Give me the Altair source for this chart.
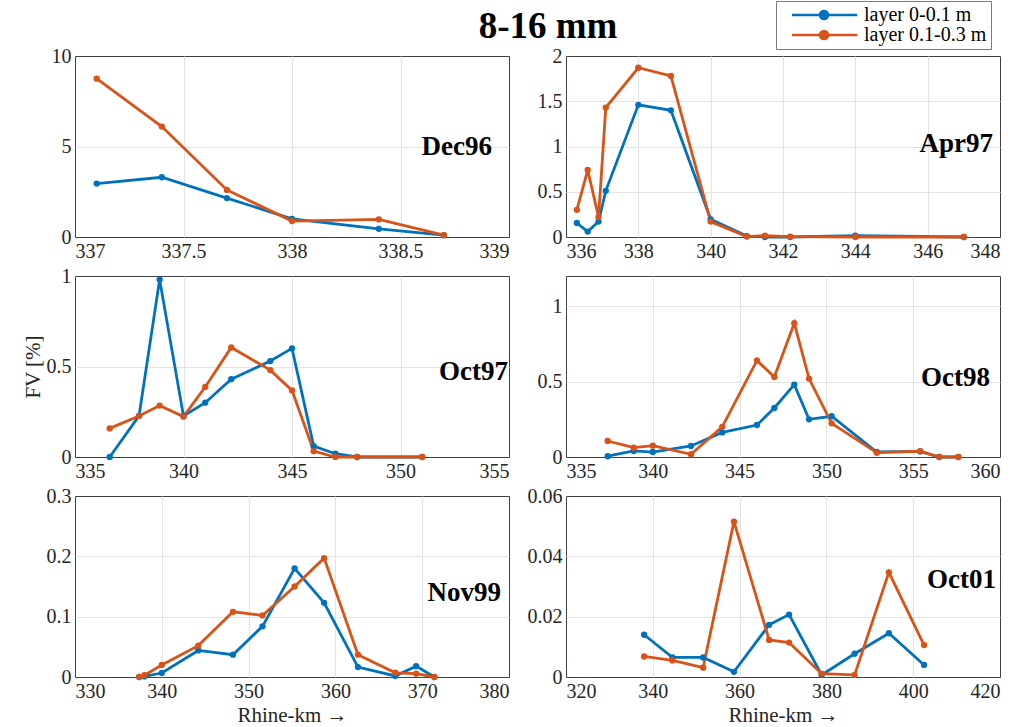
import altair as alt
import pandas as pd

FONT = "Liberation Serif"
BLUE = "#0072BD"
ORANGE = "#D95319"
L1 = "layer 0-0.1 m"
L2 = "layer 0.1-0.3 m"

# ---- data (Rhine-km, FV %) ----
dec96_km = [337.1, 337.4, 337.7, 338.0, 338.4, 338.7]
dec96_l1 = [2.95, 3.3, 2.15, 1.0, 0.45, 0.1]
dec96_l2 = [8.75, 6.1, 2.6, 0.88, 0.97, 0.1]

apr97_km = [336.3, 336.6, 336.9, 337.1, 338.0, 338.9, 340.0, 341.0, 341.5, 342.2, 344.0, 347.0]
apr97_l1 = [0.155, 0.06, 0.17, 0.51, 1.46, 1.40, 0.195, 0.01, 0.0, 0.0, 0.015, 0.0]
apr97_l2 = [0.30, 0.74, 0.22, 1.43, 1.87, 1.78, 0.17, 0.005, 0.015, 0.005, 0.0, 0.0]

oct97_km = [336.6, 337.95, 338.9, 340.0, 341.0, 342.2, 344.0, 345.0, 346.0, 347.0, 348.0, 351.0]
oct97_l1 = [0.0, 0.227, 0.98, 0.227, 0.30, 0.43, 0.53, 0.60, 0.06, 0.018, 0.0, 0.0]
oct97_l2 = [0.158, 0.227, 0.284, 0.223, 0.387, 0.605, 0.48, 0.368, 0.032, 0.0, 0.0, 0.0]

oct98_km = [337.4, 338.9, 340.0, 342.2, 344.0, 346.0, 347.0, 348.15, 349.0, 350.3, 352.9, 355.4, 356.5, 357.6]
oct98_l1 = [0.005, 0.04, 0.033, 0.073, 0.163, 0.212, 0.325, 0.48, 0.25, 0.27, 0.033, 0.037, 0.0, 0.0]
oct98_l2 = [0.106, 0.062, 0.075, 0.018, 0.2, 0.64, 0.53, 0.887, 0.52, 0.223, 0.029, 0.038, 0.0, 0.0]

nov99_km = [337.4, 338.0, 340.0, 344.2, 348.2, 351.6, 355.3, 358.7, 362.6, 366.9, 369.3, 371.4]
nov99_l1 = [0.0, 0.001, 0.0066, 0.044, 0.037, 0.084, 0.18, 0.123, 0.0165, 0.0017, 0.018, 0.0]
nov99_l2 = [0.0, 0.003, 0.02, 0.052, 0.108, 0.102, 0.15, 0.197, 0.037, 0.007, 0.0055, 0.0]

oct01_km = [338.0, 344.5, 351.6, 358.7, 366.8, 371.4, 378.9, 386.5, 394.4, 402.5]
oct01_l1 = [0.014, 0.0065, 0.0065, 0.0017, 0.0173, 0.0207, 0.0007, 0.0077, 0.0145, 0.004]
oct01_l2 = [0.0068, 0.0055, 0.0031, 0.0515, 0.0123, 0.0114, 0.0011, 0.0007, 0.0347, 0.0106]

# axis settings per panel
dec96_xticks = [337, 337.5, 338, 338.5, 339]
dec96_yticks = [0, 5, 10]
apr97_xticks = [336, 338, 340, 342, 344, 346, 348]
apr97_yticks = [0, 0.5, 1, 1.5, 2]
oct97_xticks = [335, 340, 345, 350, 355]
oct97_yticks = [0, 0.5, 1]
oct98_xticks = [335, 340, 345, 350, 355, 360]
oct98_yticks = [0, 0.5, 1]
nov99_xticks = [330, 340, 350, 360, 370, 380]
nov99_yticks = [0, 0.1, 0.2, 0.3]
oct01_xticks = [320, 340, 360, 380, 400, 420]
oct01_yticks = [0, 0.02, 0.04, 0.06]

W = 434
H = 181
FMT = "format(datum.value, '~g')"

LEG = alt.Legend(
    title=None, orient="none", legendX=W + 57 + 210, legendY=-55,
    labelFont=FONT, labelFontSize=20, labelColor="#000000",
    symbolType="M0.25,0H8.4M3.75,0A0.5,0.5 0 1,0 4.75,0A0.5,0.5 0 1,0 3.75,0",
    symbolSize=256, symbolStrokeWidth=2.6, rowPadding=-3,
    strokeColor="#7a7a7a", fillColor="#ffffff", padding=4, labelOffset=64,
)
CSCALE = alt.Scale(domain=[L1, L2], range=[BLUE, ORANGE])


def edge_hide(lo, hi):
    return alt.condition(f"datum.value <= {lo} || datum.value >= {hi}", alt.value(0), alt.value(1))


def panel(name, km, v1, v2, xdom, xticks, ydom, yticks, label_inset, label_y,
          xtitle=None, ytitle=None):
    df = pd.DataFrame({
        "km": list(km) + list(km),
        "fv": list(v1) + list(v2),
        "layer": [L1] * len(km) + [L2] * len(km),
    })
    color = alt.Color("layer:N", scale=CSCALE, legend=LEG)
    x = alt.X("km:Q", scale=alt.Scale(domain=xdom, nice=False, zero=False),
              axis=alt.Axis(values=xticks, labelExpr=FMT, title=xtitle,
                            gridOpacity=edge_hide(xdom[0], xdom[1])))
    y = alt.Y("fv:Q", scale=alt.Scale(domain=ydom, nice=False),
              axis=alt.Axis(values=yticks, labelExpr=FMT, title=ytitle,
                            gridOpacity=edge_hide(ydom[0], ydom[1])))
    base = alt.Chart(df)
    line = base.mark_line(strokeWidth=2.8).encode(x=x, y=y, color=color, detail="layer:N")
    pts = base.mark_circle(size=40, opacity=1).encode(x="km:Q", y="fv:Q", color=color)
    lab = alt.Chart(pd.DataFrame({"t": [name]})).mark_text(
        align="right", baseline="middle", font=FONT, fontWeight="bold", fontSize=27, color="#000000"
    ).encode(x=alt.value(W - label_inset), y=alt.value(label_y), text="t:N")
    return alt.layer(line, pts, lab).properties(width=W, height=H)


p1 = panel("Dec96", dec96_km, dec96_l1, dec96_l2, [337, 339], dec96_xticks, [0, 10], dec96_yticks, 17, 91)
p2 = panel("Apr97", apr97_km, apr97_l1, apr97_l2, [336, 348], apr97_xticks, [0, 2], apr97_yticks, 7, 88)
p3 = panel("Oct97", oct97_km, oct97_l1, oct97_l2, [335, 355], oct97_xticks, [0, 1], oct97_yticks, 1, 96, ytitle="FV [%]")
p4 = panel("Oct98", oct98_km, oct98_l1, oct98_l2, [335, 360], oct98_xticks, [0, 1.2], oct98_yticks, 10, 102)
p5 = panel("Nov99", nov99_km, nov99_l1, nov99_l2, [330, 380], nov99_xticks, [0, 0.3], nov99_yticks, 8, 97, xtitle="Rhine-km \u2192")
p6 = panel("Oct01", oct01_km, oct01_l1, oct01_l2, [320, 420], oct01_xticks, [0, 0.06], oct01_yticks, 4, 84, xtitle="Rhine-km \u2192")

chart = alt.concat(p1, p2, p3, p4, p5, p6, columns=2, spacing={"row": 39, "column": 57}, bounds="flush").properties(
    title=alt.TitleParams("8-16 mm", font=FONT, fontSize=37, fontWeight="bold", anchor="middle",
                          color="#000000", dx=37, offset=-45),
    background="#ffffff",
    padding={"left": 21, "top": 0, "right": 5, "bottom": 2},
).configure_view(
    stroke="#404040", strokeWidth=1
).configure_axis(
    labelFont=FONT, labelFontSize=20, labelColor="#262626",
    titleFont=FONT, titleFontSize=21, titleFontWeight="normal", titleColor="#262626",
    grid=True, gridColor="#e3e3e3", gridWidth=1,
    domain=False, ticks=False, labelPadding=4, titlePadding=3,
)

chart.save("out.html", embed_options={"renderer": "svg", "actions": False})
